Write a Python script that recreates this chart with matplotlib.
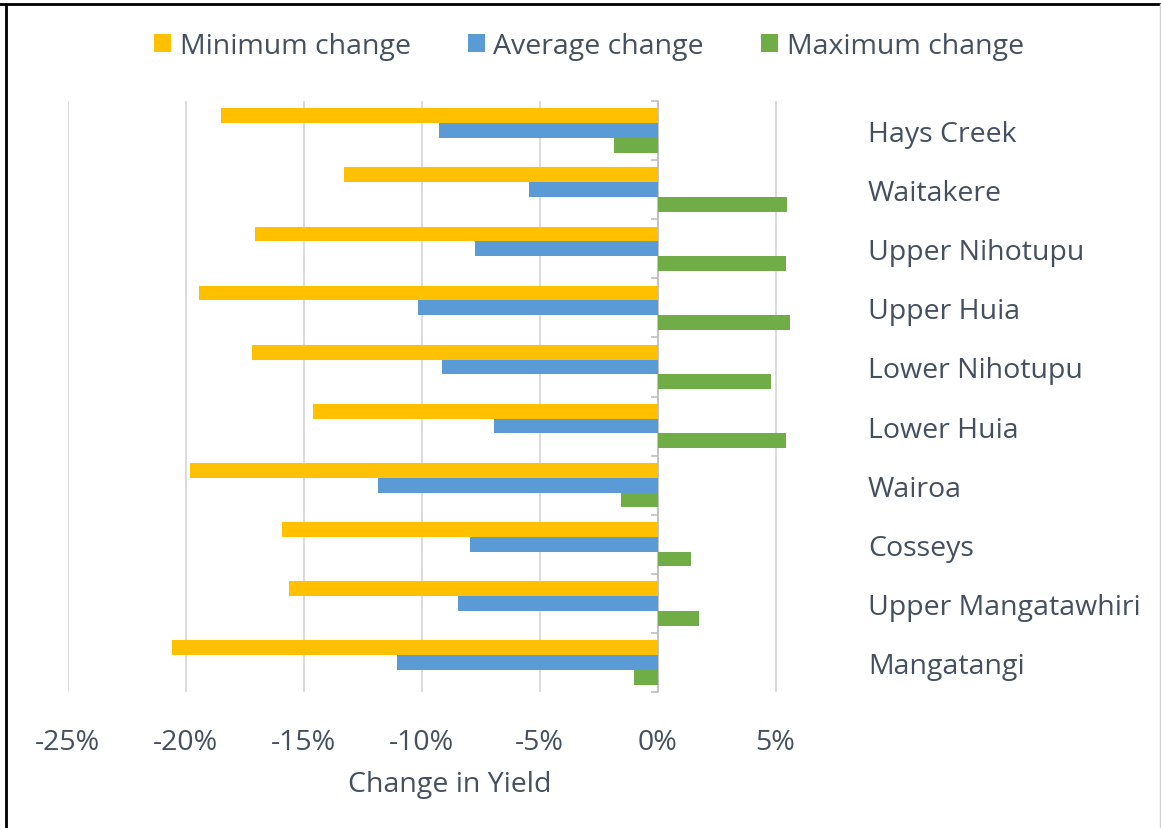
import matplotlib
matplotlib.use("Agg")
import matplotlib.pyplot as plt
import numpy as np
from matplotlib.ticker import FuncFormatter, FixedLocator
from matplotlib.lines import Line2D

categories = ['Hays Creek', 'Waitakere', 'Upper Nihotupu', 'Upper Huia', 'Lower Nihotupu',
              'Lower Huia', 'Wairoa', 'Cosseys', 'Upper Mangatawhiri', 'Mangatangi']
minimum_change = [-18.5, -13.3, -17.05, -19.45, -17.2, -14.6, -19.8, -15.9, -15.6, -20.6]
average_change = [-9.25, -5.45, -7.75, -10.15, -9.15, -6.95, -11.85, -7.95, -8.45, -11.05]
maximum_change = [-1.85, 5.5, 5.45, 5.6, 4.8, 5.45, -1.55, 1.4, 1.75, -1.0]
x_ticks = [-25, -20, -15, -10, -5, 0, 5]
series_names = ['Minimum change', 'Average change', 'Maximum change']
colors = ['#FFC000', '#5B9BD5', '#70AD47']
TEXT = '#44505f'
FONT = ['Open Sans', 'DejaVu Sans']

plt.rcParams['font.family'] = FONT

W, H = 1161, 829
fig = plt.figure(figsize=(W / 100, H / 100), dpi=100)
ax = fig.add_axes([67.7 / W, (H - 693) / H, (799.1 - 67.7) / W, (693 - 102) / H])

y = np.arange(len(categories))
h = 0.25
handles = []
for i, (vals, name, c) in enumerate(zip([minimum_change, average_change, maximum_change], series_names, colors)):
    b = ax.barh(y + (i - 1) * h, vals, height=h, color=c, label=name, zorder=3)
    handles.append(b)

ax.set_xlim(-25, 6)
ax.set_ylim(len(categories) - 0.5, -0.5)

ax.xaxis.set_major_locator(FixedLocator(x_ticks))
ax.xaxis.set_major_formatter(FuncFormatter(lambda v, p: f"{int(round(v))}%"))
ax.grid(axis='x', color='#d9d9d9', linewidth=1.3, zorder=0)
ax.set_axisbelow(True)
ax.tick_params(axis='x', length=0, pad=26, labelsize=20.5, labelcolor=TEXT)

# category axis at zero, labels on the right
ax.spines['left'].set_position(('data', 0))
ax.spines['left'].set_color('#bfbfbf')
ax.spines['left'].set_linewidth(1.2)
ax.spines['left'].set_zorder(2)
for s in ['right', 'top', 'bottom']:
    ax.spines[s].set_visible(False)
ax.set_yticks(y)
ax.set_yticklabels(categories)
ax.set_yticks(np.arange(len(categories) + 1) - 0.5, minor=True)
ax.tick_params(axis='y', which='major', length=0, left=False, right=False,
               labelleft=False, labelright=True, pad=49.5, labelsize=20.5, labelcolor=TEXT)
ax.tick_params(axis='y', which='minor', length=5, width=1.2, color='#bfbfbf',
               left=True, right=False, direction='out')

fig.text(450 / W, 1 - 785 / H, 'Change in Yield', ha='center', va='center',
         fontsize=20.5, color=TEXT)

leg = fig.legend(handles=handles, loc='center', bbox_to_anchor=(589 / W, 1 - 47 / H),
                 ncol=3, frameon=False, fontsize=20.5, handlelength=0.6, handleheight=0.6,
                 handletextpad=0.3, columnspacing=2.0, borderaxespad=0)
for t in leg.get_texts():
    t.set_color(TEXT)

# frame lines
fig.add_artist(Line2D([0, 1], [1 - 4.5 / H, 1 - 4.5 / H], color='black', linewidth=2, transform=fig.transFigure))
fig.add_artist(Line2D([5.5 / W, 5.5 / W], [0, 1 - 4.5 / H], color='black', linewidth=2, transform=fig.transFigure))
fig.add_artist(Line2D([1 - 1.5 / W, 1 - 1.5 / W], [0, 1 - 4.5 / H], color='#d0d0d0', linewidth=1, transform=fig.transFigure))

fig.savefig('out.png', dpi=100, facecolor='white')
